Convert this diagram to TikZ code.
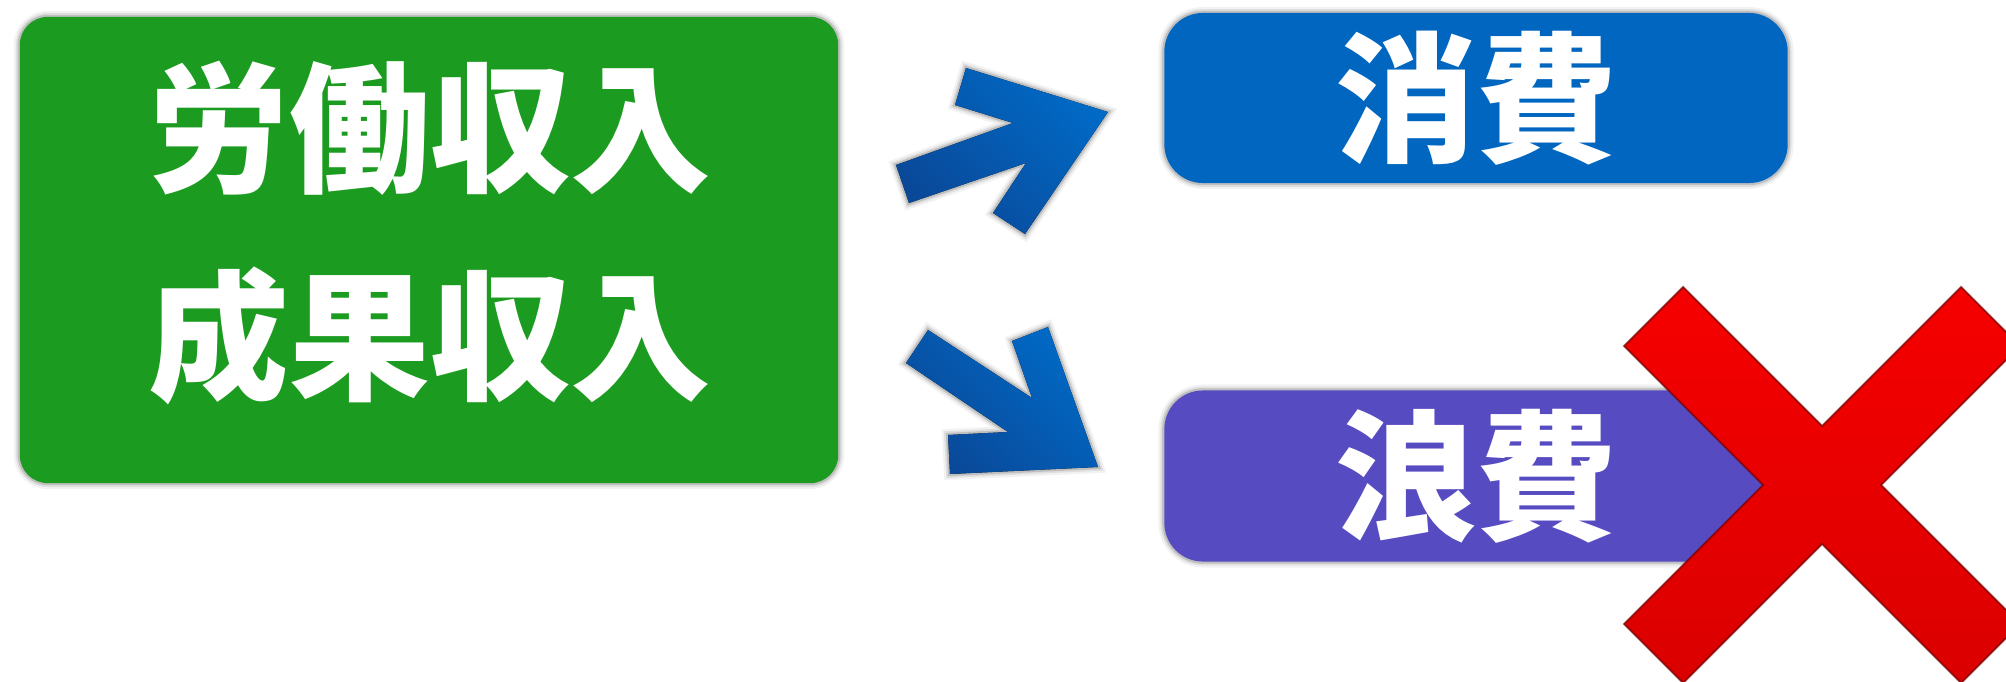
\documentclass[tikz,border=0pt]{standalone}
\usepackage{fontspec}
\newfontfamily\jpfont{Noto Sans CJK JP}
\usepackage{tikz}
\usetikzlibrary{positioning}
\definecolor{laborgreen}{RGB}{27,155,31}
\definecolor{spendblue}{RGB}{0,102,192}
\definecolor{wastepurple}{RGB}{87,75,193}
\definecolor{arrowtop}{RGB}{0,106,198}
\definecolor{arrowbot}{RGB}{10,72,152}
\definecolor{crosstop}{RGB}{246,0,0}
\definecolor{crossbot}{RGB}{218,0,0}

\begin{document}
\begin{tikzpicture}[x=0.01cm, y=-0.01cm,
    softedge/.style={preaction={draw=black, draw opacity=0.05, line width=3.4pt},
        preaction={draw=black, draw opacity=0.08, line width=2.2pt},
        preaction={draw=black, draw opacity=0.14, line width=1.2pt}},
    panel/.style={softedge, inner sep=0pt, text=white,
        font=\jpfont\bfseries\fontsize{40}{48}\selectfont},
    word/.style={inner sep=0pt, text=white,
        font=\jpfont\bfseries\fontsize{40}{48}\selectfont},
    bigarrow/.style={softedge, top color=arrowtop, bottom color=arrowbot, shading angle=-45}]
\useasboundingbox (0,0) rectangle (2006,682);
\fill[white] (0,0) rectangle (2006,682);

% Income box
\node[panel, fill=laborgreen, rounded corners=8pt,
      minimum width=8.18cm, minimum height=4.66cm] (income) at (429,250) {};
\node[word] (labour) at (430,128) {労働収入};
\node[word] (result) at (430,336) {成果収入};

% Spending boxes
\node[panel, fill=spendblue, rounded corners=11pt,
      minimum width=6.23cm, minimum height=1.70cm] (spend) at (1476,98) {消費};
\node[panel, fill=wastepurple, rounded corners=11pt,
      minimum width=6.23cm, minimum height=1.71cm] (waste) at (1476,476) {浪費};

% Arrows
\fill[bigarrow] (896,165) -- (1013,123) -- (955,105) -- (966,68) -- (1108,112)
    -- (1025,234) -- (993,213) -- (1026,163) -- (909,203) -- cycle;
\fill[bigarrow] (928,330) -- (1032,398) -- (1012,341) -- (1048,327) -- (1098,467)
    -- (950,474) -- (948,435) -- (1008,432) -- (906,363) -- cycle;

% Cross over the waste box
\begin{scope}[shift={(1822,485)}]
\filldraw[top color=crosstop, bottom color=crossbot,
          draw=crossbot!55!black, draw opacity=0.6, line width=0.6pt]
    (0,-59) -- (139,-198) -- (198,-139) -- (59,0) -- (198,139) -- (139,198)
    -- (0,59) -- (-139,198) -- (-198,139) -- (-59,0) -- (-198,-139)
    -- (-139,-198) -- cycle;
\end{scope}
\end{tikzpicture}
\end{document}
